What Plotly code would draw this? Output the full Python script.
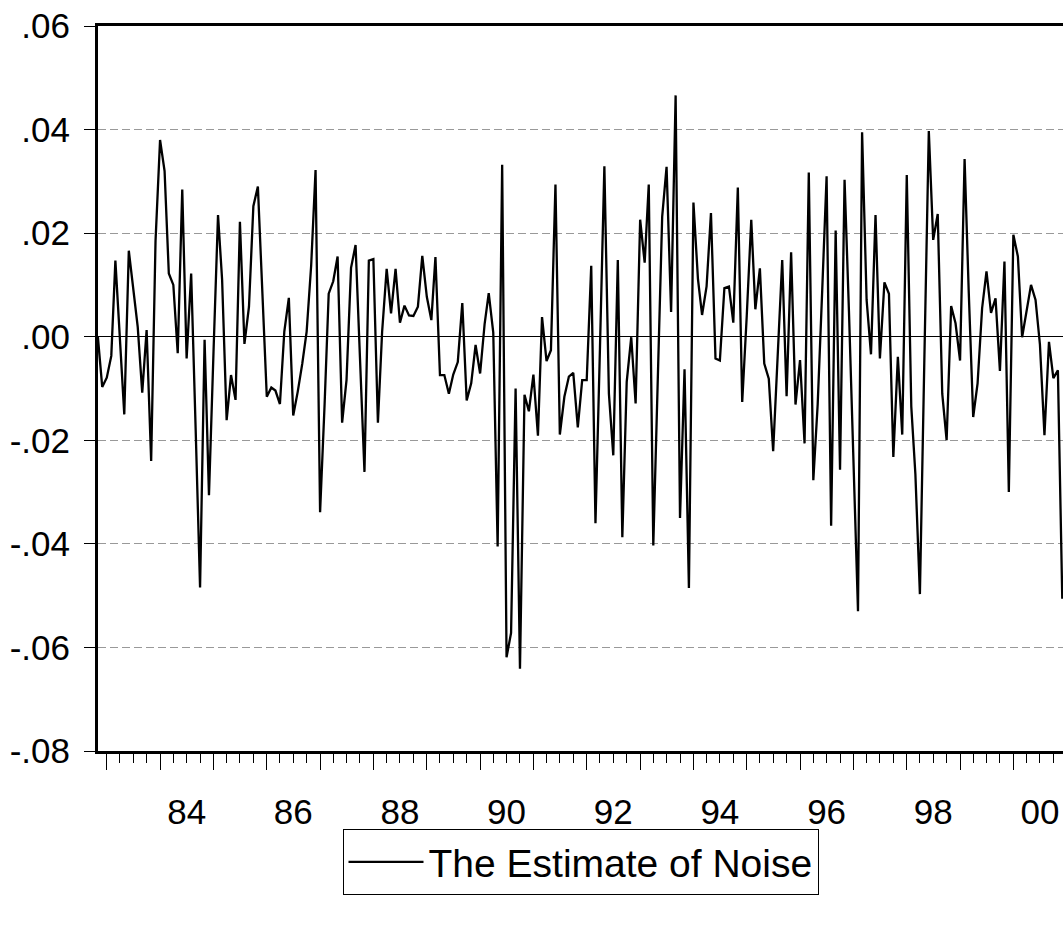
import pandas as pd
import plotly.graph_objects as go

# ---------------- data (monthly, starting 1982M11) ----------------
start_month = "1982-11-01"
series_name = "The Estimate of Noise"

noise_1982_1984 = [0.0000, -0.0097,
                   -0.0079, -0.0037, 0.0147, 0.0000, -0.0150, 0.0166, 0.0097, 0.0019, -0.0108, 0.0013, -0.0240, 0.0185,
                   0.0380, 0.0320, 0.0122, 0.0100, -0.0032, 0.0284, -0.0042, 0.0122, -0.0180, -0.0484, -0.0006, -0.0306]
noise_1985_1987 = [-0.0030, 0.0235, 0.0110, -0.0161, -0.0074, -0.0122, 0.0222, -0.0014, 0.0058, 0.0252, 0.0290, 0.0090,
                   -0.0116, -0.0098, -0.0104, -0.0130, 0.0010, 0.0075, -0.0152, -0.0106, -0.0052, 0.0010, 0.0138, 0.0322,
                   -0.0339, -0.0130, 0.0083, 0.0107, 0.0155, -0.0166, -0.0084, 0.0133, 0.0177, -0.0040, -0.0261, 0.0147]
noise_1988_1990 = [0.0150, -0.0166, 0.0010, 0.0131, 0.0045, 0.0131, 0.0027, 0.0060, 0.0041, 0.0040, 0.0058, 0.0156,
                   0.0077, 0.0032, 0.0154, -0.0074, -0.0074, -0.0110, -0.0073, -0.0049, 0.0065, -0.0123, -0.0090, -0.0016,
                   -0.0071, 0.0025, 0.0084, 0.0008, -0.0405, 0.0332, -0.0619, -0.0572, -0.0100, -0.0641, -0.0112, -0.0144]
noise_1991_1993 = [-0.0073, -0.0191, 0.0038, -0.0047, -0.0026, 0.0294, -0.0189, -0.0116, -0.0077, -0.0070, -0.0175, -0.0084,
                   -0.0084, 0.0137, -0.0360, -0.0020, 0.0329, -0.0110, -0.0229, 0.0148, -0.0387, -0.0087, -0.0001, -0.0129,
                   0.0226, 0.0143, 0.0294, -0.0403, -0.0080, 0.0232, 0.0328, 0.0048, 0.0466, -0.0350, -0.0063, -0.0485]
noise_1994_1996 = [0.0259, 0.0111, 0.0042, 0.0097, 0.0239, -0.0042, -0.0046, 0.0094, 0.0097, 0.0027, 0.0288, -0.0126,
                   0.0040, 0.0226, 0.0053, 0.0132, -0.0052, -0.0081, -0.0221, -0.0050, 0.0148, -0.0115, 0.0163, -0.0131,
                   -0.0045, -0.0206, 0.0317, -0.0277, -0.0130, 0.0090, 0.0310, -0.0365, 0.0205, -0.0257, 0.0303, 0.0050]
noise_1997_1999 = [-0.0220, -0.0530, 0.0395, 0.0071, -0.0034, 0.0235, -0.0042, 0.0105, 0.0083, -0.0232, -0.0039, -0.0189,
                   0.0312, -0.0135, -0.0265, -0.0497, -0.0050, 0.0397, 0.0187, 0.0237, -0.0110, -0.0200, 0.0059, 0.0026,
                   -0.0046, 0.0343, 0.0090, -0.0155, -0.0090, 0.0055, 0.0126, 0.0046, 0.0074, -0.0066, 0.0145, -0.0300]
noise_2000 = [0.0197, 0.0155, -0.0001, 0.0050, 0.0100, 0.0071, -0.0015, -0.0190, -0.0010, -0.0080, -0.0065, -0.0506]

x_label_years = [1984, 1986, 1988, 1990, 1992, 1994, 1996, 1998, 2000]
x_label_text = ["84", "86", "88", "90", "92", "94", "96", "98", "00"]

y_tick_values = [0.06, 0.04, 0.02, 0.00, -0.02, -0.04, -0.06, -0.08]
y_tick_text = [".06", ".04", ".02", ".00", "-.02", "-.04", "-.06", "-.08"]

# ---------------- build ----------------
noise = (noise_1982_1984 + noise_1985_1987 + noise_1988_1990 + noise_1991_1993
         + noise_1994_1996 + noise_1997_1999 + noise_2000)
dates = pd.date_range(start_month, periods=len(noise), freq="MS")

FONT = "Liberation Sans, Arial, sans-serif"
FS = 35

fig = go.Figure()
fig.add_trace(go.Scatter(x=dates, y=noise, mode="lines", name=series_name,
                         line=dict(color="black", width=2.3), xaxis="x", yaxis="y"))
# invisible companion trace so the label axis is rendered
fig.add_trace(go.Scatter(x=dates, y=noise, mode="lines", showlegend=False, hoverinfo="skip",
                         line=dict(color="rgba(0,0,0,0)", width=0), xaxis="x2", yaxis="y"))

x_range = ["1982-11-02", "2000-12-06"]

fig.update_layout(
    width=1063, height=925,
    margin=dict(l=98, r=0, t=26, b=174, autoexpand=False),
    paper_bgcolor="white", plot_bgcolor="white",
    font=dict(family=FONT, size=FS, color="black"),
    showlegend=True,
    legend=dict(orientation="h", x=0.5, xanchor="center", y=-0.1076, yanchor="top",
                bgcolor="white", bordercolor="black", borderwidth=1,
                font=dict(family=FONT, size=39, color="black"),
                itemwidth=75),
    xaxis=dict(type="date", range=x_range, showline=True, linecolor="black", linewidth=3,
               mirror=True, showgrid=False, zeroline=False,
               tickmode="linear", tick0="1983-01-01", dtick="M12",
               ticks="outside", ticklen=16, tickwidth=1, tickcolor="black",
               showticklabels=False,
               minor=dict(tickmode="linear", tick0="1983-01-01", dtick="M3",
                          ticks="outside", ticklen=9, tickwidth=1, tickcolor="black",
                          showgrid=False)),
    xaxis2=dict(type="date", overlaying="x", matches="x", anchor="y", side="bottom",
                showline=False, showgrid=False, zeroline=False, ticks="",
                tickmode="array",
                tickvals=[f"{yr}-07-01" for yr in x_label_years],
                ticktext=x_label_text, ticklabelstandoff=37,
                tickfont=dict(family=FONT, size=FS, color="black")),
    yaxis=dict(range=[-0.08, 0.06], showline=True, linecolor="black", linewidth=3,
               mirror=False, tickmode="array", tickvals=y_tick_values, ticktext=y_tick_text,
               ticks="outside", ticklen=11, tickwidth=1, tickcolor="black",
               ticklabelstandoff=7,
               showgrid=True, gridcolor="#999999", gridwidth=1, griddash="8px,4px",
               zeroline=True, zerolinecolor="black", zerolinewidth=1,
               tickfont=dict(family=FONT, size=FS, color="black")),
)

fig.write_html("out.html")
